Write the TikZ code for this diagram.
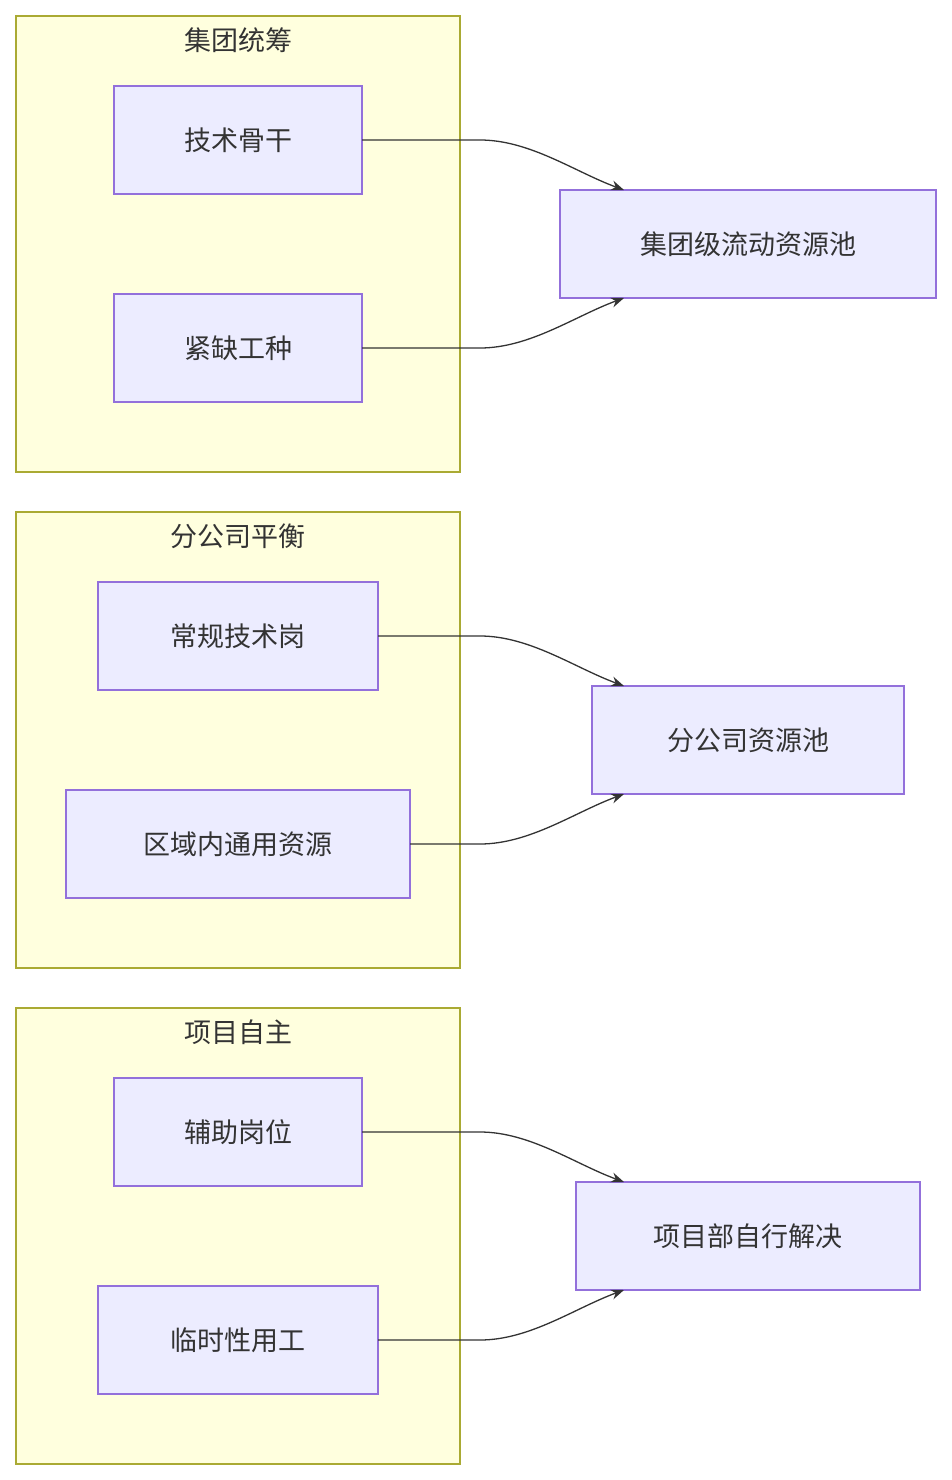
\documentclass[tikz,border=0pt]{standalone}
\usepackage{fontspec}
\setmainfont{Noto Sans CJK SC}
\usetikzlibrary{arrows.meta}
\definecolor{cfill}{HTML}{FFFFDE}
\definecolor{cline}{HTML}{AAAA33}
\definecolor{nfill}{HTML}{ECECFF}
\definecolor{nline}{HTML}{9370DB}
\definecolor{txt}{HTML}{333333}
\begin{document}
\begin{tikzpicture}[x=1pt,y=-1pt,
  cl/.style={draw=cline,fill=cfill,line width=1.2pt},
  nd/.style={draw=nline,fill=nfill,line width=1.2pt},
  lb/.style={text=txt,font=\fontsize{27}{32}\selectfont},
  ar/.style={draw=txt,line width=1.3pt,-{Stealth[length=13pt,width=10pt]}}]
\useasboundingbox (0,0) rectangle (952,1480);
\foreach \y/\t/\n in {16/集团统筹/a,512/分公司平衡/b,1008/项目自主/c}{
  \draw[cl] (16,\y) rectangle (460,\y+456);
  \node[lb] (t\n) at (238,\y+24) {\t};
}
\newcommand\mybox[6]{\draw[nd] (#1,#2) rectangle (#3,#4); \node[lb] (#6) at ({(#1+#3)/2},{(#2+#4)/2}) {#5};}
\mybox{114}{86}{362}{194}{技术骨干}{n1}
\mybox{114}{294}{362}{402}{紧缺工种}{n2}
\mybox{560}{190}{936}{298}{集团级流动资源池}{n3}
\mybox{98}{582}{378}{690}{常规技术岗}{n4}
\mybox{66}{790}{410}{898}{区域内通用资源}{n5}
\mybox{592}{686}{904}{794}{分公司资源池}{n6}
\mybox{114}{1078}{362}{1186}{辅助岗位}{n7}
\mybox{98}{1286}{378}{1394}{临时性用工}{n8}
\mybox{576}{1182}{920}{1290}{项目部自行解决}{n9}
\foreach \sx/\sy/\ty/\nm in {362/140/190/e1,378/636/686/e3,362/1132/1182/e5}{
  \coordinate (\nm s) at (\sx,\sy); \coordinate (\nm t) at (624,\ty);
  \draw[ar] (\nm s) -- (480,\sy) .. controls (530,\sy) and (575,\ty-18) .. (\nm t);
}
\foreach \sx/\sy/\ty/\nm in {362/348/298/e2,410/844/794/e4,378/1340/1290/e6}{
  \coordinate (\nm s) at (\sx,\sy); \coordinate (\nm t) at (624,\ty);
  \draw[ar] (\nm s) -- (480,\sy) .. controls (530,\sy) and (575,\ty+18) .. (\nm t);
}
\end{tikzpicture}
\end{document}
